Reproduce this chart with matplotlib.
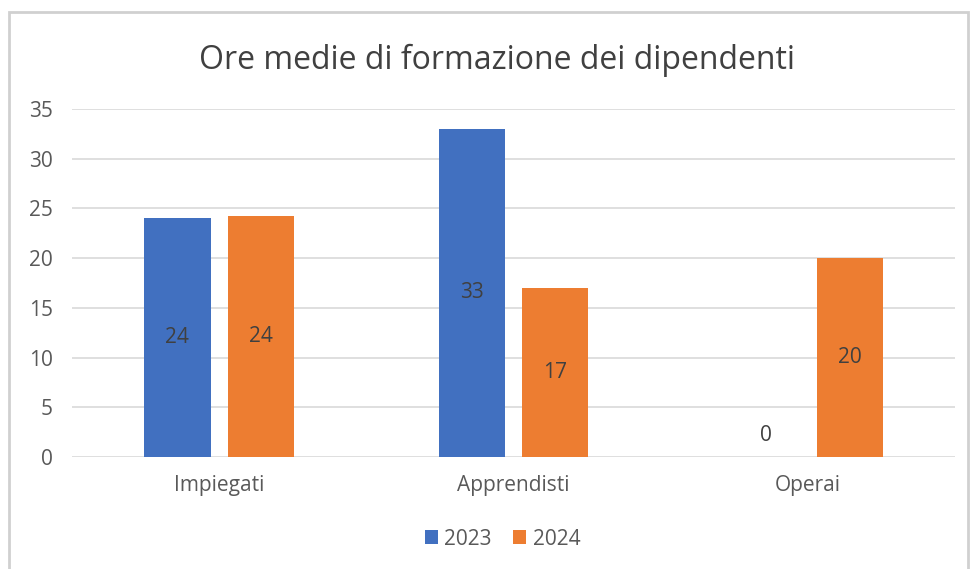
import matplotlib.pyplot as plt
import numpy as np
from matplotlib.patches import Rectangle

categories = ["Impiegati", "Apprendisti", "Operai"]
years = ["2023", "2024"]
values_2023 = [24, 33, 0]
values_2024 = [24.2, 17, 20]
colors = ["#4170C0", "#ED7D31"]

plt.rcParams["font.family"] = ["Open Sans", "DejaVu Sans"]

fig = plt.figure(figsize=(9.71, 5.69), dpi=100)
ax = fig.add_axes([0.0742, 0.1968, 0.9093, 0.6116])

# chart border like the office frame
fig.patches.append(Rectangle((9 / 971, -0.05), 959 / 971, 1.05 - 12 / 569,
                             transform=fig.transFigure, fill=False,
                             edgecolor="#d0d0d0", linewidth=2))

x = np.arange(len(categories))
width = 0.225
offset = 0.142

for i, (vals, year) in enumerate(zip([values_2023, values_2024], years)):
    pos = x + (i * 2 - 1) * offset
    ax.bar(pos, vals, width, color=colors[i], label=year, zorder=3)
    for p, v in zip(pos, vals):
        ypos = v / 2 if v > 0 else 2.2
        ax.text(p, ypos, f"{v:.0f}", ha="center", va="center",
                fontsize=15, color="#404040", zorder=4)

ax.set_xlim(-0.5, 2.5)
ax.set_ylim(0, 35)
ax.set_yticks(range(0, 36, 5))
ax.set_xticks(x)
ax.set_xticklabels(categories)
ax.yaxis.grid(True, color="#d9d9d9", linewidth=1.2, zorder=0)
ax.tick_params(axis="both", length=0, labelsize=15, colors="#595959")
ax.tick_params(axis="x", pad=13)
ax.tick_params(axis="y", pad=14)
for s in ax.spines.values():
    s.set_visible(False)

fig.text(0.512, 1 - 69 / 569, "Ore medie di formazione dei dipendenti",
         ha="center", va="baseline", fontsize=23, color="#404040")

ax.legend(loc="center", bbox_to_anchor=(0.4875, -0.236), ncol=2,
          frameon=False, fontsize=15, handlelength=0.65, handleheight=0.65,
          handletextpad=0.3, columnspacing=1.0, labelcolor="#595959")

fig.savefig("out.png", dpi=100)
